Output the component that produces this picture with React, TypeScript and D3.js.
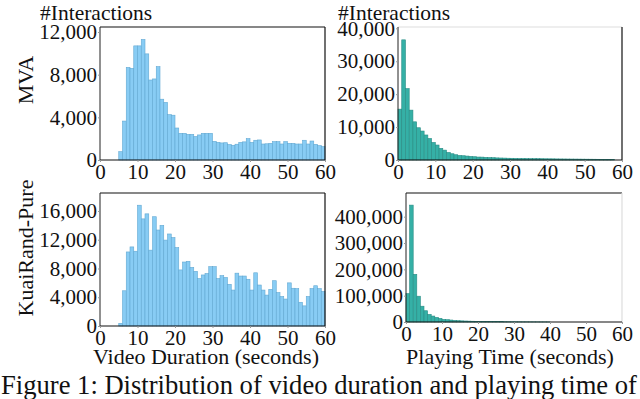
import React, { useEffect, useRef } from 'react';
import * as d3 from 'd3';

// one-second bins, 0..60 s
const binEdges = d3.range(0, 61);
const xTicks = [0, 10, 20, 30, 40, 50, 60];

// #interactions per video-duration bin
const mvaDuration = [
  0, 0, 0, 0, 0, 780, 3650, 8680, 8590, 10700,
  10700, 11300, 9950, 7500, 7600, 8750, 5700, 5400, 4250, 4200,
  3000, 2500, 2500, 2400, 2400, 2200, 2350, 2500, 2500, 2500,
  1750, 1650, 1600, 1620, 1450, 1380, 1480, 1650, 1700, 2000,
  1650, 1850, 1880, 1500, 1520, 1560, 1720, 1720, 1500, 1720,
  1560, 1560, 1500, 1500, 1850, 1500, 1780, 1470, 1350, 1250,
];
const kuaiDuration = [
  0, 0, 0, 0, 0, 370, 4900, 10300, 11000, 10400,
  16800, 14900, 15600, 10550, 15200, 13350, 14000, 11950, 12800, 12300,
  10900, 7800, 8900, 9000, 8150, 7600, 6600, 7100, 7300, 8250,
  8250, 6600, 7000, 6750, 5800, 5000, 7350, 6950, 6950, 6500,
  5000, 7400, 5700, 5000, 4300, 5100, 6300, 4650, 4100, 3750,
  6000, 5250, 5200, 3300, 2800, 4100, 5200, 5600, 5200, 4800,
];

// #interactions per playing-time bin
const mvaPlay = [
  15450, 36500, 21700, 15150, 11600, 9800, 8800, 7600, 6550, 5350,
  4550, 3550, 3000, 2300, 1900, 1600, 1400, 1300, 1200, 1100,
  1000, 900, 880, 800, 760, 700, 640, 610, 580, 540,
  520, 500, 470, 460, 440, 430, 410, 400, 390, 370,
  360, 350, 330, 320, 310, 300, 290, 280, 270, 260,
  250, 240, 230, 220, 200, 190, 170, 150, 0, 0,
];
const kuaiPlay = [
  108000, 444000, 181000, 98000, 60000, 42800, 29000, 22600, 17600, 13800,
  10000, 8800, 7500, 6300, 5000, 4300, 3800, 3300, 2900, 2600,
  2300, 2100, 1900, 1700, 1500, 1300, 1150, 1000, 900, 850,
  800, 720, 650, 600, 550, 500, 450, 400, 350, 300,
  0, 0, 0, 0, 0, 0, 0, 0, 0, 0,
  0, 0, 0, 0, 0, 0, 0, 0, 0, 0,
];

const mvaDurTicks = [0, 4000, 8000, 12000];
const kuaiDurTicks = [0, 4000, 8000, 12000, 16000];
const mvaPlayTicks = [0, 10000, 20000, 30000, 40000];
const kuaiPlayTicks = [0, 100000, 200000, 300000, 400000];

const FONT = '"Liberation Serif", "Times New Roman", serif';
const BLUE = '#88ccf4';
const TEAL = '#35b0a6';

const App = () => {
  const svgRef = useRef<SVGSVGElement>(null);

  useEffect(() => {
    const svg = d3.select(svgRef.current);
    svg.selectAll('*').remove();

    const panel = (opts: any) => {
      const { left, right, top, bottom, values, yMax, ticks, fill, edge, topColor, rightColor } = opts;
      const x = d3.scaleLinear().domain([0, 60]).range([left, right]);
      const y = d3.scaleLinear().domain([0, yMax]).range([bottom, top]);
      const g = svg.append('g');

      const bins = values
        .map((v: number, i: number) => ({ x0: binEdges[i], x1: binEdges[i + 1], v }))
        .filter((b: any) => b.v > 0);

      g.selectAll('rect')
        .data(bins)
        .enter().append('rect')
        .attr('x', (b: any) => x(b.x0))
        .attr('y', (b: any) => y(b.v))
        .attr('width', (b: any) => x(b.x1) - x(b.x0))
        .attr('height', (b: any) => y(0) - y(b.v))
        .attr('fill', fill)
        .attr('stroke', edge)
        .attr('stroke-width', 0.6);

      // frame
      g.append('line').attr('x1', left).attr('x2', right).attr('y1', top).attr('y2', top)
        .attr('stroke', topColor).attr('stroke-width', 1.2);
      g.append('line').attr('x1', right).attr('x2', right).attr('y1', top).attr('y2', bottom)
        .attr('stroke', rightColor).attr('stroke-width', 1.2);
      g.append('line').attr('x1', left).attr('x2', left).attr('y1', top).attr('y2', bottom)
        .attr('stroke', '#222').attr('stroke-width', 1);
      g.append('line').attr('x1', left).attr('x2', right).attr('y1', bottom).attr('y2', bottom)
        .attr('stroke', '#111').attr('stroke-width', 1.2);

      const ax = g.append('g')
        .attr('transform', `translate(0,${bottom})`)
        .call(d3.axisBottom(x).tickValues(xTicks).tickSize(2).tickPadding(2).tickFormat(d3.format('d')));
      const ay = g.append('g')
        .attr('transform', `translate(${left},0)`)
        .call(d3.axisLeft(y).tickValues(ticks).tickSize(2).tickPadding(1).tickFormat(d3.format(',')));
      [ax, ay].forEach((a) => {
        a.select('.domain').remove();
        a.selectAll('line').attr('stroke', '#999');
        a.selectAll('text')
          .attr('font-family', FONT)
          .attr('font-size', 21)
          .attr('fill', '#111');
      });
    };

    panel({ left: 100, right: 325, top: 27, bottom: 160, values: mvaDuration, yMax: 12470,
      ticks: mvaDurTicks, fill: BLUE, edge: '#62a8d2', topColor: '#111', rightColor: '#111' });
    panel({ left: 100, right: 325, top: 193, bottom: 326, values: kuaiDuration, yMax: 18500,
      ticks: kuaiDurTicks, fill: BLUE, edge: '#62a8d2', topColor: '#111', rightColor: '#111' });
    panel({ left: 398, right: 622, top: 27, bottom: 160, values: mvaPlay, yMax: 40400,
      ticks: mvaPlayTicks, fill: TEAL, edge: '#2a8d85', topColor: '#ddd', rightColor: '#111' });
    panel({ left: 406, right: 622, top: 193, bottom: 322, values: kuaiPlay, yMax: 490000,
      ticks: kuaiPlayTicks, fill: TEAL, edge: '#2a8d85', topColor: '#111', rightColor: '#ddd' });

    const label = (txt: string, x: number, y: number, size: number, anchor = 'start', rotate = 0) => {
      svg.append('text')
        .attr('transform', `translate(${x},${y}) rotate(${rotate})`)
        .attr('text-anchor', anchor)
        .attr('font-family', FONT)
        .attr('font-size', size)
        .attr('fill', '#111')
        .text(txt);
    };

    label('#Interactions', 40, 19.5, 21.5);
    label('#Interactions', 338, 19.5, 21.5);
    label('MVA', 33, 80, 22, 'middle', -90);
    label('KuaiRand-Pure', 33, 248, 22, 'middle', -90);
    label('Video Duration (seconds)', 206, 364, 22, 'middle');
    label('Playing Time (seconds)', 510, 364, 22, 'middle');
    label('Figure 1: Distribution of video duration and playing time of', 1, 394, 26.6);
  }, []);

  return (
    <svg ref={svgRef} width={640} height={399}
      style={{ position: 'absolute', left: 0, top: 0, background: '#fff' }} />
  );
};

export default App;
